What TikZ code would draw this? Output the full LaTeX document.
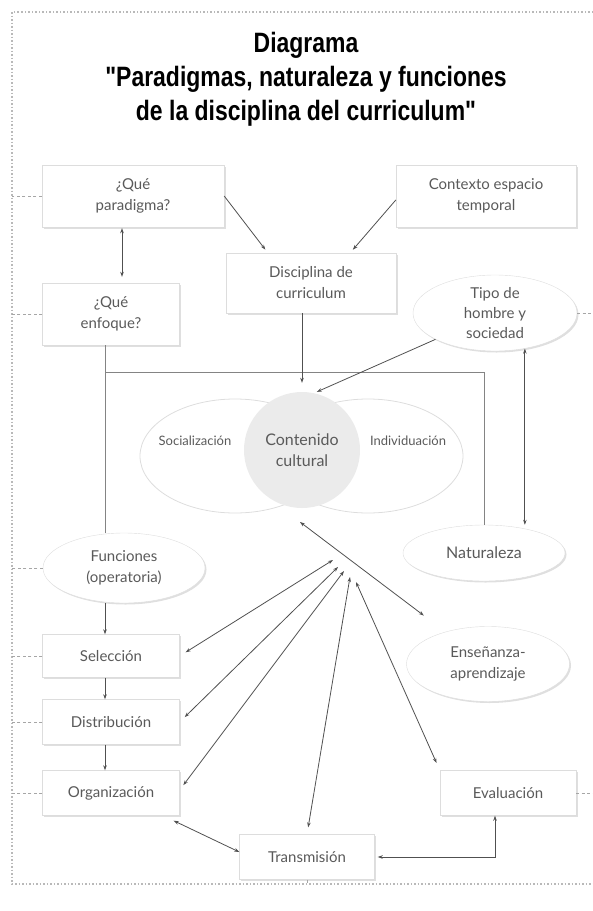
\documentclass[tikz,border=0pt]{standalone}
\usepackage{fontspec}
\setmainfont{Lato}
\newfontfamily\titlefont[FakeStretch=0.82]{Liberation Sans}
\usetikzlibrary{shapes.geometric,shadows,arrows.meta}
\definecolor{txt}{HTML}{5A5A5A}
\definecolor{edge}{HTML}{DDDDDD}
\definecolor{wire}{HTML}{505050}
\tikzset{
	box/.style={draw=edge,fill=white,align=center,text=txt,inner sep=0pt,
		font=\fontsize{15}{21}\selectfont,
		drop shadow={opacity=0.25,shadow xshift=1.5pt,shadow yshift=-1.5pt}},
	oval/.style={box,ellipse},
	arr/.style={draw=wire,line width=0.8pt,-{Stealth[length=5pt,width=3.5pt]}},
	darr/.style={arr,{Stealth[length=5pt,width=3.5pt]}-{Stealth[length=5pt,width=3.5pt]}},
	link/.style={draw=wire!70,line width=0.8pt},
	guide/.style={draw=gray!70,dash pattern=on 3pt off 2.5pt,line width=0.8pt},
	border/.style={draw=gray!55,dash pattern=on 1.5pt off 2pt,line width=1.3pt}
}

\begin{document}
\begin{tikzpicture}[x=1pt,y=-1pt]
	\useasboundingbox (0,0) rectangle (593,911);
	\coordinate (L) at (12,0);
	\coordinate (R) at (593,0);
	\coordinate (B) at (0,884);
	\coordinate (lx) at (105,0);
	\draw[border] (R |- 0,12) -- (12,12) -- (12,884) -- (593,884);

	\node[font=\titlefont\bfseries\fontsize{28}{34}\selectfont,align=center] (title) at (306,79)
		{Diagrama\\"Paradigmas, naturaleza y funciones\\de la disciplina del curriculum"};

	\node[box,minimum width=182pt,minimum height=62pt] (parad) at (133,196) {¿Qué\\paradigma?};
	\node[box,minimum width=180pt,minimum height=62pt] (contexto) at (486,196) {Contexto espacio\\temporal};
	\node[box,minimum width=170pt,minimum height=60pt] (disc) at (311,283) {Disciplina de\\curriculum};
	\node[box,minimum width=137pt,minimum height=62pt] (enfoque) at (111,314) {¿Qué\\enfoque?};
	\node[oval,minimum width=164pt,minimum height=76pt,font=\fontsize{15}{20}\selectfont] (tipo) at (495,313) {Tipo de\\hombre y\\sociedad};

	\node[ellipse,draw=edge,line width=0.8pt,minimum width=190pt,minimum height=114pt] (socia) at (235,456) {};
	\node[ellipse,draw=edge,line width=0.8pt,minimum width=190pt,minimum height=114pt] (indiv) at (368,456) {};
	\node[circle,fill=gray!16,minimum size=116pt,align=center,text=txt,font=\fontsize{16}{21}\selectfont] (cont) at (302,450) {Contenido\\cultural};
	\node[text=txt,font=\fontsize{13}{15}\selectfont] (tsocia) at (195,441) {Socialización};
	\node[text=txt,font=\fontsize{13}{15}\selectfont] (tindiv) at (408,441) {Individuación};

	\node[oval,minimum width=162pt,minimum height=70pt] (func) at (124,568) {Funciones\\(operatoria)};
	\node[oval,minimum width=162pt,minimum height=56pt,font=\fontsize{16}{21}\selectfont] (natur) at (484,553) {Naturaleza};
	\node[oval,minimum width=163pt,minimum height=75pt] (ense) at (488,664) {Enseñanza-\\aprendizaje};
	\node[box,minimum width=137pt,minimum height=43pt] (selec) at (111,656) {Selección};
	\node[box,minimum width=137pt,minimum height=45pt] (distr) at (111,722) {Distribución};
	\node[box,minimum width=137pt,minimum height=45pt] (organ) at (111,793) {Organización};
	\node[box,minimum width=136pt,minimum height=45pt] (evalu) at (508,793) {Evaluación};
	\node[box,minimum width=135pt,minimum height=45pt] (trans) at (307,857) {Transmisión};

	\foreach \n in {parad,enfoque,func,selec,distr,organ}
		\draw[guide] (\n.west) -- (\n.west -| L);
	\foreach \n in {tipo,evalu}
		\draw[guide] (\n.east) -- (\n.east -| R);
	\draw[guide] (trans.south) -- (trans.south |- B);

	\draw[link] (enfoque.south -| lx) -- (func.north -| lx);
	\draw[link] (lx |- 0,372) -| (natur.north);

	\draw[arr,shorten >=4pt] (parad.east) -- ([xshift=42pt]disc.north west);
	\draw[arr,shorten >=4pt] ([yshift=-4pt]contexto.west) -- ([xshift=-46pt]disc.north east);
	\draw[darr,shorten <=1pt,shorten >=6pt] ([xshift=11pt]enfoque.north |- parad.south) -- ([xshift=11pt]enfoque.north);
	\draw[arr,shorten >=9pt] (disc.south -| cont) -- (cont.north);
	\draw[arr,shorten >=3pt] (tipo) -- (cont.78);
	\draw[darr] (tipo.-50) -- (tipo.-50 |- natur.north);

	\coordinate (hub) at (300,522);
	\draw[darr,shorten >=27pt] (hub) -- (ense);
	\coordinate (f1) at (333,560);
	\coordinate (f2) at (338,567);
	\coordinate (f3) at (344,571);
	\coordinate (f4) at (350,577);
	\coordinate (f5) at (356,582);
	\draw[darr,shorten >=7pt] (f1) -- (selec.east);
	\draw[darr,shorten >=7pt] (f2) -- (distr.east);
	\draw[darr,shorten >=6pt] (f3) -- ([yshift=3pt]organ.east);
	\draw[darr,shorten >=7pt] (f4) -- (trans.north);
	\draw[darr,shorten >=8pt] (f5) -- (evalu.north west);

	\draw[arr] (func.south -| lx) -- (selec.north -| lx);
	\draw[arr] (selec.south -| lx) -- (distr.north -| lx);
	\draw[arr] (distr.south -| lx) -- (organ.north -| lx);
	\draw[darr] ([shift={(-6pt,-5pt)}]organ.south east) -- ([yshift=5pt]trans.west);
	\draw[darr,shorten >=3pt] ([xshift=-13pt]evalu.south) |- (trans.east);
\end{tikzpicture}
\end{document}
